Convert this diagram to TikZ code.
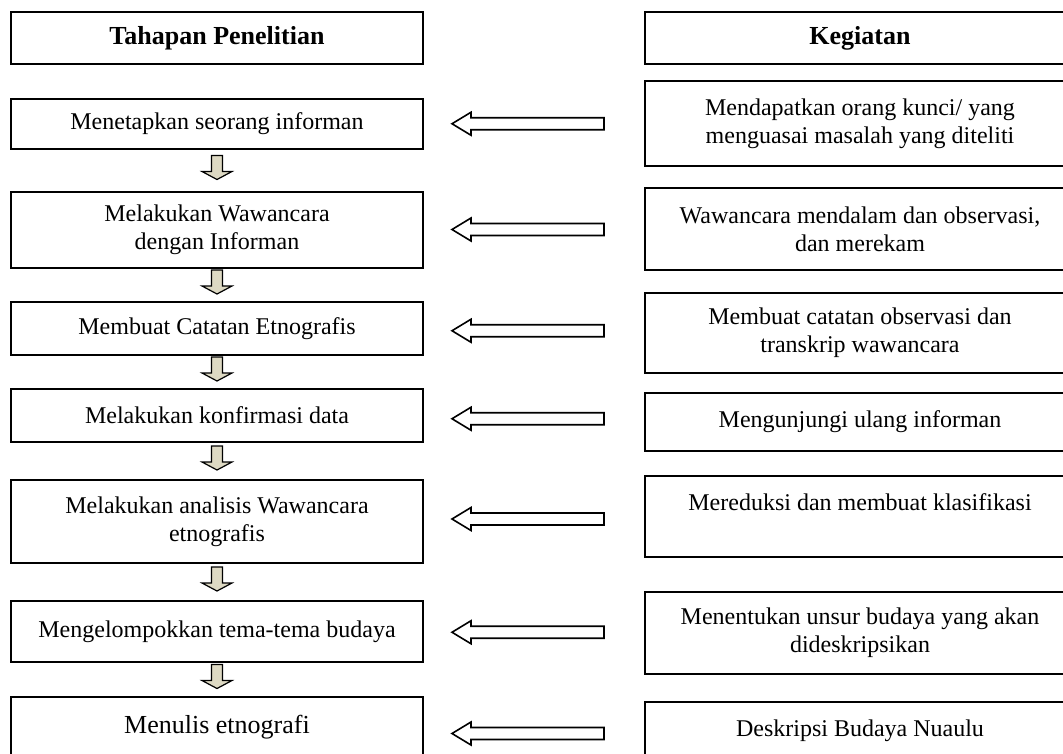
\documentclass[tikz,border=0pt]{standalone}
\usepackage{fontspec}
\setmainfont{Liberation Serif}
\usetikzlibrary{calc,positioning}
\definecolor{beige}{HTML}{DDD9C3}
\tikzset{
 box/.style={draw,line width=1.6bp,align=center,inner sep=0pt,font=\fontsize{24bp}{28bp}\selectfont},
 stage/.style={box,minimum width=412bp},
 activity/.style={box,minimum width=430bp},
 headline/.style={font=\fontsize{26bp}{30bp}\selectfont\bfseries},
 hollow/.style={draw,line width=1.6bp,fill=white,line join=miter},
 flowdown/.style={draw,line width=1.2bp,fill=beige,line join=miter}
}
\newcommand\DownArr[2]{%
 \path ($(#1.south)!.5!(#2.north)$) coordinate (m);
 \draw[flowdown] ($(m)+(-5.5,-15)$) -- ++(11,0) -- ++(0,16) -- ++(9.5,0) -- ++(-15,8) -- ++(-15,-8) -- ++(9.5,0) -- cycle;}
\newcommand\LeftArr[2]{%
 \path ($(#2.east)!.5!(#1.west)$) coordinate (c);
 \draw[hollow] ($(c)+(-82,0)$) -- ++(19,-11.5) -- ++(0,5.5) -- ++(133,0) -- ++(0,12) -- ++(-133,0) -- ++(0,5.5) -- cycle;}
\begin{document}
\begin{tikzpicture}[x=1bp,y=-1bp]
\useasboundingbox (0,0) rectangle (1063,754);
\node[stage,headline,minimum height=52bp] (tahap) at (217,38) {Tahapan Penelitian};
\node[activity,headline,minimum height=52bp] (kegiatan) at (860,38) {Kegiatan};
\node[stage,minimum height=50bp] (l1) at (217,124) {Menetapkan seorang informan};
\node[stage,minimum height=76bp] (l2) at (217,230) {Melakukan Wawancara\\dengan Informan};
\node[stage,minimum height=53bp] (l3) at (217,328.5) {Membuat Catatan Etnografis};
\node[stage,minimum height=53bp] (l4) at (217,415.5) {Melakukan konfirmasi data};
\node[stage,minimum height=83bp] (l5) at (217,521.5) {Melakukan analisis Wawancara\\etnografis};
\node[stage,minimum height=61bp] (l6) at (217,631.5) {Mengelompokkan tema-tema budaya};
\node[stage,minimum height=68bp,text depth=14bp,font=\fontsize{26bp}{30bp}\selectfont] (l7) at (217,731) {Menulis etnografi};
\node[activity,minimum height=85bp] (r1) at (860,123.5) {Mendapatkan orang kunci/ yang\\menguasai masalah yang diteliti};
\node[activity,minimum height=82bp] (r2) at (860,229) {Wawancara mendalam dan observasi,\\dan merekam};
\node[activity,minimum height=80bp] (r3) at (860,333) {Membuat catatan observasi dan\\transkrip wawancara};
\node[activity,minimum height=58bp] (r4) at (860,422) {Mengunjungi ulang informan};
\node[activity,minimum height=81bp] (r5) at (860,516.5) {Mereduksi dan membuat klasifikasi\\~};
\node[activity,minimum height=82bp] (r6) at (860,633) {Menentukan unsur budaya yang akan\\dideskripsikan};
\node[activity,minimum height=68bp,text depth=16bp] (r7) at (860,736) {Deskripsi Budaya Nuaulu};
\DownArr{l1}{l2}
\DownArr{l2}{l3}
\DownArr{l3}{l4}
\DownArr{l4}{l5}
\DownArr{l5}{l6}
\DownArr{l6}{l7}
\LeftArr{r1}{l1}
\LeftArr{r2}{l2}
\LeftArr{r3}{l3}
\LeftArr{r4}{l4}
\LeftArr{r5}{l5}
\LeftArr{r6}{l6}
\LeftArr{r7}{l7}
\end{tikzpicture}
\end{document}
